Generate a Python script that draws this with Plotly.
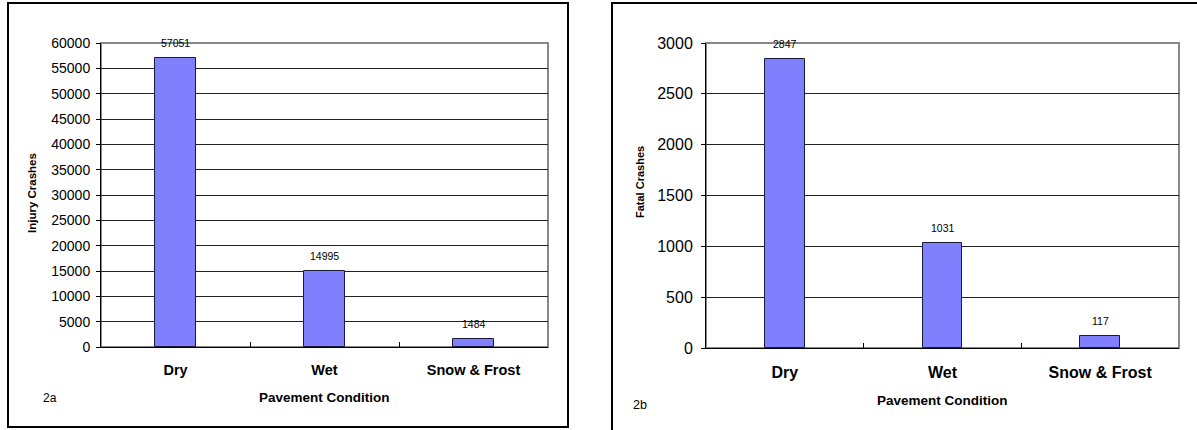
import plotly.graph_objects as go

categories = ["Dry", "Wet", "Snow & Frost"]
injury_crashes = [57051, 14995, 1484]
fatal_crashes = [2847, 1031, 117]
injury_ticks = list(range(0, 60001, 5000))
fatal_ticks = list(range(0, 3001, 500))

W, H = 1197, 430
FONT = "Arial, Liberation Sans, sans-serif"
BAR = "#8080FF"


def px(x):
    return x / W


def py(y):
    return 1 - y / H


fig = go.Figure()

fig.add_trace(go.Bar(x=categories, y=injury_crashes, xaxis="x", yaxis="y",
                     width=0.28, marker=dict(color=BAR, line=dict(color="#1a1a3a", width=1)),
                     hoverinfo="x+y"))
fig.add_trace(go.Bar(x=categories, y=fatal_crashes, xaxis="x2", yaxis="y2",
                     width=0.25, marker=dict(color=BAR, line=dict(color="#1a1a3a", width=1)),
                     hoverinfo="x+y"))

L = dict(x0=101, x1=548, y0=43, y1=347)
R = dict(x0=706, x1=1179, y0=43, y1=348)

common_x = dict(type="category", showgrid=False, showline=True, linecolor="black", linewidth=1,
                ticks="inside", ticklen=5, tickcolor="black", tickson="boundaries",
                fixedrange=True, zeroline=False, automargin=False)
common_y = dict(showgrid=True, gridcolor="#222222", gridwidth=1, showline=True, linecolor="black",
                linewidth=1, zeroline=False, fixedrange=True, ticks="outside", ticklen=4,
                tickcolor="black", automargin=False)

fig.update_layout(
    template="none",
    width=W, height=H, margin=dict(l=0, r=0, t=0, b=0, pad=0), autosize=False,
    paper_bgcolor="white", plot_bgcolor="white", showlegend=False, bargap=0,
    font=dict(family=FONT, color="black"),
    xaxis=dict(common_x, domain=[px(L["x0"]), px(L["x1"])], anchor="y",
               tickfont=dict(size=14.5, family=FONT, weight="bold"), ticklabelstandoff=10),
    yaxis=dict(common_y, domain=[py(L["y1"]), py(L["y0"])], anchor="x", range=[0, 60000],
               tickvals=injury_ticks, ticktext=[str(t) for t in injury_ticks],
               tickfont=dict(size=14), ticklabelstandoff=3),
    xaxis2=dict(common_x, domain=[px(R["x0"]), px(R["x1"])], anchor="y2",
                tickfont=dict(size=16, family=FONT, weight="bold"), ticklabelstandoff=10),
    yaxis2=dict(common_y, domain=[py(R["y1"]), py(R["y0"])], anchor="x2", range=[0, 3000],
                tickvals=fatal_ticks, ticktext=[str(t) for t in fatal_ticks],
                tickfont=dict(size=16), ticklabelstandoff=5),
)

shapes = []
# outer panel borders
shapes.append(dict(type="rect", xref="paper", yref="paper", x0=px(8), x1=px(568), y0=py(427), y1=py(3),
                   line=dict(color="black", width=2), layer="below"))
shapes.append(dict(type="rect", xref="paper", yref="paper", x0=px(612), x1=px(1210), y0=py(445), y1=py(3),
                   line=dict(color="black", width=2), layer="below"))
# plot-area frames (gray top/right)
for a in (L, R):
    shapes.append(dict(type="rect", xref="paper", yref="paper", x0=px(a["x0"]), x1=px(a["x1"]),
                       y0=py(a["y1"]), y1=py(a["y0"]), line=dict(color="#888888", width=2),
                       layer="below"))
fig.update_layout(shapes=shapes)

ann = []
for c, v in zip(categories, injury_crashes):
    ann.append(dict(x=c, y=v, xref="x", yref="y", text=str(v), showarrow=False,
                    yanchor="bottom", yshift=7, font=dict(size=10.5, family=FONT)))
for c, v in zip(categories, fatal_crashes):
    ann.append(dict(x=c, y=v, xref="x2", yref="y2", text=str(v), showarrow=False,
                    yanchor="bottom", yshift=7, font=dict(size=10.5, family=FONT)))


def label(x, y, text, size, bold=False, angle=0):
    f = dict(size=size, family=FONT)
    if bold:
        f["weight"] = "bold"
    return dict(x=px(x), y=py(y), xref="paper", yref="paper", text=text, showarrow=False,
                xanchor="center", yanchor="middle", textangle=angle, font=f)


ann += [
    label(324.5, 397, "Pavement Condition", 13.5, bold=True),
    label(942.5, 400, "Pavement Condition", 13.5, bold=True),
    label(50, 398, "2a", 12),
    label(640, 405, "2b", 12.5),
    label(32, 193, "Injury Crashes", 11.5, bold=True, angle=-90),
    label(640, 182, "Fatal Crashes", 11, bold=True, angle=-90),
]
fig.update_layout(annotations=ann)

fig.write_html("out.html", config={"displayModeBar": False, "responsive": False},
               post_script="document.body.style.margin='0';document.body.style.overflow='hidden';")
